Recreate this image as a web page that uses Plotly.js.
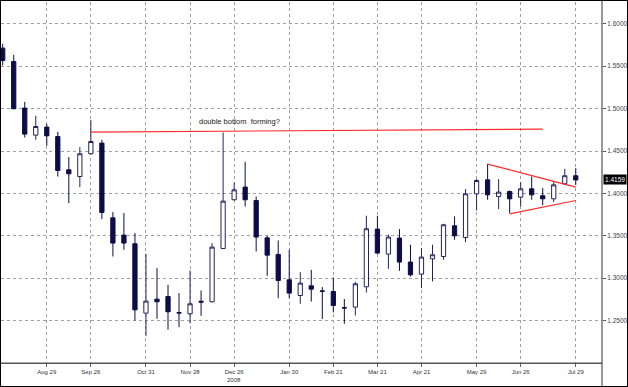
<!DOCTYPE html>
<html>
<head>
<meta charset="utf-8">
<script src="https://cdn.plot.ly/plotly-3.0.1.min.js"></script>
<style>
html,body{margin:0;padding:0;background:#fff;}
#wrap{position:relative;width:628px;height:387px;}
#chart{width:628px;height:387px;}
#frame{position:absolute;left:0;top:0;width:626px;height:385px;border:1px solid #000;pointer-events:none;}
</style>
</head>
<body>
<div id="wrap"><div id="chart"></div><div id="frame"></div></div>
<script>
// Weekly candles (index 0 = first visible week)
const openP  = [1.5713,1.5556,1.5006,1.4687,1.4782,1.4671,1.4278,1.4199,1.4467,1.4593,
                1.3712,1.3508,1.3406,1.2588,1.2753,1.2784,1.2594,1.2580,1.2728,1.2722,
                1.3350,1.3925,1.4074,1.3916,1.3476,1.3280,1.2981,1.2796,1.2910,1.2850,
                1.2843,1.2653,1.2659,1.2899,1.3579,1.3284,1.3473,1.3190,1.3048,1.3229,
                1.3256,1.3618,1.3480,1.3995,1.4160,1.3964,1.4022,1.3956,1.4054,1.3972,
                1.3936,1.4113,1.4208];
const highP  = [1.5764,1.5634,1.5080,1.4915,1.4821,1.4726,1.4428,1.4546,1.4868,1.4632,
                1.3780,1.3768,1.3532,1.3288,1.3119,1.2922,1.2824,1.3091,1.2855,1.3414,
                1.4718,1.4129,1.4373,1.3963,1.3500,1.3445,1.3335,1.3072,1.3099,1.2895,
                1.3008,1.2754,1.2958,1.3736,1.3736,1.3515,1.3579,1.3394,1.3355,1.3394,
                1.3642,1.3728,1.4051,1.4169,1.4349,1.4169,1.4034,1.4133,1.4199,1.4063,
                1.4133,1.4290,1.4298];
const lowP   = [1.5508,1.4995,1.4659,1.4632,1.4561,1.4199,1.3886,1.4074,1.4459,1.3697,
                1.3256,1.3335,1.2501,1.2321,1.2521,1.2392,1.2423,1.2471,1.2557,1.2714,
                1.3345,1.3917,1.3846,1.3315,1.3028,1.2765,1.2765,1.2698,1.2725,1.2518,
                1.2596,1.2462,1.2560,1.2831,1.3288,1.3111,1.3087,1.3020,1.2883,1.2961,
                1.3217,1.3453,1.3426,1.3798,1.3925,1.3815,1.3768,1.3846,1.3925,1.3860,
                1.3897,1.4101,1.4101];
const closeP = [1.5567,1.4998,1.4699,1.4789,1.4679,1.4270,1.4231,1.4467,1.4612,1.3775,
                1.3414,1.3414,1.2627,1.2730,1.2722,1.2604,1.2590,1.2698,1.2718,1.3367,
                1.3909,1.4042,1.3925,1.3485,1.3272,1.2973,1.2824,1.2942,1.2871,1.2846,
                1.2678,1.2649,1.2934,1.3583,1.3296,1.3485,1.3190,1.3040,1.3249,1.3276,
                1.3630,1.3500,1.3995,1.4152,1.3983,1.4015,1.3936,1.4054,1.3983,1.3936,
                1.4101,1.4208,1.4159];

// Axis ticks (week index) and labels
const tickWeeks  = [4,8,13,17,21,26,30,34,38,43,47,52];
const tickLabels = ["Aug 29","Sep 26","Oct 31","Nov 28","Dec 26","Jan 30","Feb 21","Mar 21","Apr 21","May 29","Jun 26","Jul 29"];
const priceTicks = [1.25,1.30,1.35,1.40,1.45,1.50,1.55,1.60];
const lastPrice  = 1.4159;

// Drawn trend lines
const resistX = [8, 49],  resistY = [1.4723, 1.4758];
const triUpX  = [44, 52], triUpY  = [1.4346, 1.4074];
const triLoX  = [46, 52], triLoY  = [1.3759, 1.3916];

const weekIdx = openP.map((_, i) => i);

const navy = '#0c0c48';
const traces = [
  {
    type: 'candlestick', x: weekIdx, open: openP, high: highP, low: lowP, close: closeP,
    increasing: {line: {color: '#24245e', width: 1}, fillcolor: '#ffffff'},
    decreasing: {line: {color: navy, width: 1}, fillcolor: navy},
    whiskerwidth: 0, hoverinfo: 'skip', showlegend: false
  },
  {type:'scatter', mode:'lines', x: resistX, y: resistY, line:{color:'#ff2a2a', width:1.2}, hoverinfo:'skip', showlegend:false},
  {type:'scatter', mode:'lines', x: triUpX, y: triUpY, line:{color:'#ff2a2a', width:1.2}, hoverinfo:'skip', showlegend:false},
  {type:'scatter', mode:'lines', x: triLoX, y: triLoY, line:{color:'#ff2a2a', width:1.2}, hoverinfo:'skip', showlegend:false}
];

const layout = {
  width: 628, height: 387,
  margin: {l: 1, r: 26, t: 2, b: 24, pad: 0},
  paper_bgcolor: '#ffffff', plot_bgcolor: '#ffffff',
  showlegend: false,
  boxgap: 0.45,
  font: {family: 'Liberation Sans, Arial, sans-serif', color: '#333'},
  xaxis: {
    type: 'linear', range: [-0.154, 54.38],
    tickvals: tickWeeks, ticktext: tickLabels,
    tickfont: {size: 6, color: '#333'},
    ticks: 'outside', ticklen: 3, tickcolor: '#666',
    showgrid: true, gridcolor: '#a0a0a0', griddash: 'dot', gridwidth: 1,
    showline: true, linecolor: '#555', linewidth: 1,
    zeroline: false, rangeslider: {visible: false}, fixedrange: true
  },
  yaxis: {
    side: 'right', range: [1.2, 1.6257],
    tickvals: priceTicks, tickformat: '.4f',
    tickfont: {size: 6.5, color: '#444'},
    ticks: 'outside', ticklen: 3, tickcolor: '#555', ticklabelstandoff: 0,
    showgrid: true, gridcolor: '#a0a0a0', griddash: 'dot', gridwidth: 1,
    showline: false, zeroline: false, fixedrange: true
  },
  shapes: [
    {type:'line', xref:'paper', yref:'paper', x0:1, x1:1, y0:-0.07, y1:1.01, line:{color:'#333', width:1}},
    {type:'line', xref:'paper', yref:'y', x0:0, x1:1, y0:1.2, y1:1.2, line:{color:'#555', width:1}}
  ],
  annotations: [
    {x: 21.45, y: 1.4844, xref:'x', yref:'y', text:'double bottom  forming?', showarrow:false,
     font:{size:7.5, color:'#222'}, xanchor:'center', yanchor:'middle'},
    {x: 21, y: -0.047, xref:'x', yref:'paper', text:'2008', showarrow:false,
     font:{size:6, color:'#333'}, xanchor:'center', yanchor:'middle'},
    {x: 1, y: lastPrice, xref:'paper', yref:'y', text: lastPrice.toFixed(4), showarrow:false,
     font:{size:6.5, color:'#ffffff'}, bgcolor:'#000000', borderpad:1, xanchor:'left', yanchor:'middle', xshift:1}
  ]
};

Plotly.newPlot('chart', traces, layout, {staticPlot: true, displayModeBar: false});
</script>
</body>
</html>
